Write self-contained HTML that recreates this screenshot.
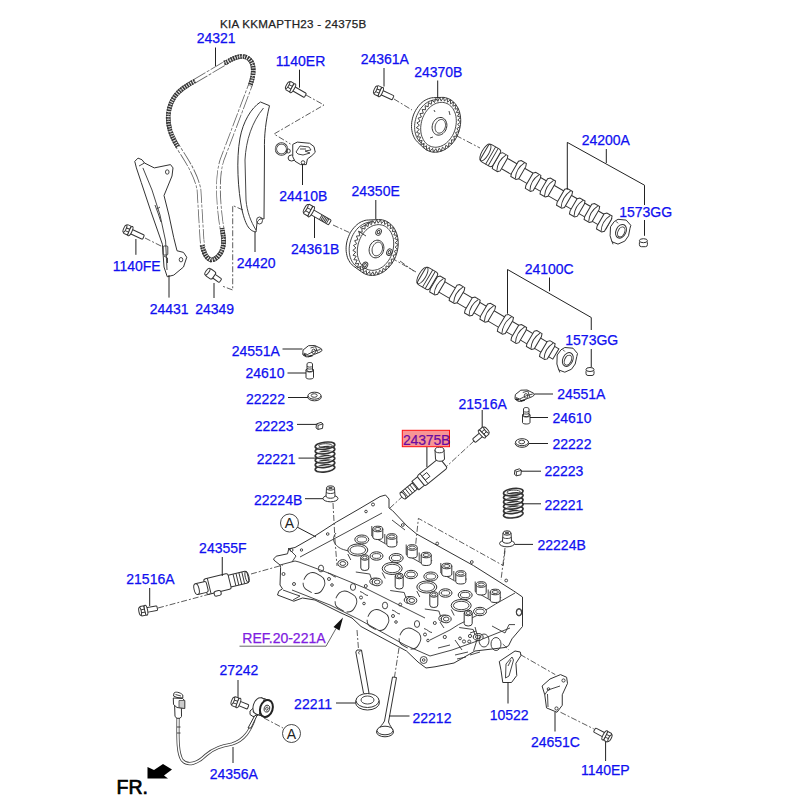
<!DOCTYPE html>
<html><head><meta charset="utf-8">
<style>
html,body{margin:0;padding:0;background:#fff;width:800px;height:800px;overflow:hidden}
svg{position:absolute;left:0;top:0}
.t{font-family:"Liberation Sans",sans-serif;font-size:14px;fill:#1010f0;stroke:#1010f0;stroke-width:0.25}
.ttl{font-family:"Liberation Sans",sans-serif;font-size:11.6px;letter-spacing:0.27px;fill:#222;stroke:#222;stroke-width:0.25}
.ln{stroke:#222;stroke-width:1;fill:none}
.dl{stroke:#333;stroke-width:0.8;fill:none;stroke-dasharray:6 2 2 2}
.p{stroke:#333;stroke-width:1;fill:#fff}
.pn{stroke:#333;stroke-width:0.9;fill:none}
</style></head><body>
<svg width="800" height="800" viewBox="0 0 800 800">
<g id="timing">
<!-- chain -->
<defs><path id="chainp" d="M 211 260 C 205 258 203 250 202 240 L 199 190 C 197 178 190 165 180 150 C 172 138 166 125 169 110 C 172 95 182 88 195 81 L 227 62 C 235 57 243 54 249 59 C 255 64 254 75 250 86 L 222 160 C 217 175 218 200 221 222 C 223 235 226 245 220 254 C 217 258 214 260 211 260 Z"/></defs>
<use href="#chainp" stroke="#666" stroke-width="4.6" fill="none" stroke-dasharray="14 1.5 3 1.5"/>
<use href="#chainp" stroke="#fff" stroke-width="3" fill="none"/>
<path d="M 224 63 L 227 62 C 235 57 243 54 249 59 C 255 64 254 75 250 86" stroke="#333" stroke-width="4.6" fill="none" stroke-dasharray="1.6 0.9"/>
<path d="M 224 63 L 227 62 C 235 57 243 54 249 59 C 255 64 254 75 250 86" stroke="#aaa" stroke-width="1" fill="none" stroke-dasharray="1 2"/>
<path d="M 195 81 C 182 88 172 95 169 110 C 166 125 172 138 178 147" stroke="#333" stroke-width="4.6" fill="none" stroke-dasharray="1.6 0.9"/>
<path d="M 195 81 C 182 88 172 95 169 110 C 166 125 172 138 178 147" stroke="#aaa" stroke-width="1" fill="none" stroke-dasharray="1 2"/>
<path d="M 202 245 C 203 250 205 258 211 260 C 214 260 217 258 220 254 C 226 245 223 235 222 228" stroke="#333" stroke-width="4.6" fill="none" stroke-dasharray="1.6 0.9"/>
<path d="M 202 245 C 203 250 205 258 211 260 C 214 260 217 258 220 254 C 226 245 223 235 222 228" stroke="#aaa" stroke-width="1" fill="none" stroke-dasharray="1 2"/>
<line class="ln" x1="215.5" y1="47.5" x2="215.5" y2="66"/>
<!-- guide 24420 -->
<path class="p" d="M 260.5 102 L 269.5 105.7 C 266 120 264 135 264.5 150 L 264 219 C 262 218 258 219 257 223 L 256 232 C 250 231 246 227 242 210 C 238 190 236 160 240 138 C 243 122 251 108 260.5 102 Z"/>
<path class="pn" d="M 263.5 108 C 252 122 246 140 245 160 L 246 200 C 247 212 251 222 256 230"/>
<ellipse cx="259.5" cy="220.5" rx="3" ry="3.5" class="pn"/>
<line class="ln" x1="255" y1="232" x2="255" y2="252"/>
<path class="dl" d="M 243 210 L 232.7 205.5 L 232.7 290 L 222 286"/>
<!-- arm 24431 -->
<path class="p" d="M 134.75 161.4 L 138 158.1 L 142 159.75 L 144.5 163 L 154.25 167.9 L 170.5 164.6 L 173 167.9 L 172 176 L 164 195.5 L 168.9 215 L 173.75 237.75 L 177 250.75 L 183.5 252.4 L 186.75 257.25 L 183.5 267 L 173.75 275.1 L 167.25 276.75 L 164 267 L 162.4 244.25 L 151 211.75 L 141.25 182.5 L 136.4 167.9 Z"/>
<path class="pn" stroke-width="0.8" d="M 142.9 167.9 L 152 190 L 160 215 L 165.6 241 L 167 270 M 139 166 L 144.5 163"/>
<path class="pn" stroke-width="0.7" d="M 155 205 L 158 213 L 161 222 M 157 209 L 160 207"/>
<ellipse cx="167.25" cy="172" rx="1.8" ry="2.2" class="pn" stroke-width="0.9"/>
<ellipse cx="181" cy="259.7" rx="1.8" ry="2.2" class="pn" stroke-width="0.9"/>
<rect x="163.2" y="246" width="4.6" height="9" rx="1" class="pn" stroke-width="0.9"/>
<path class="pn" stroke-width="0.8" d="M 164 256 L 167.5 258 L 167.5 263"/>
<line class="ln" x1="169" y1="275" x2="169" y2="297.6"/>
<!-- bolt 1140FE -->

<line class="ln" x1="135.9" y1="239" x2="135.9" y2="254.8"/>
<path class="dl" d="M 145 238 L 163 247"/>
<!-- bolt 1140ER -->

<line class="ln" x1="299.5" y1="69.7" x2="299.5" y2="87.7"/>
<path class="dl" d="M 306 95 L 324 105 L 274 134 L 290.5 144"/>
<!-- tensioner 24410B -->
<ellipse cx="281.5" cy="149" rx="5.6" ry="5.6" fill="none" stroke="#333" stroke-width="2.2"/>
<ellipse cx="281.5" cy="149" rx="5.6" ry="5.6" fill="none" stroke="#fff" stroke-width="0.7"/>
<circle cx="288.3" cy="151" r="2" class="pn" stroke-width="0.8"/>
<ellipse cx="291.6" cy="158" rx="3.5" ry="3" class="p" stroke-width="1"/>
<path class="p" d="M 292.75 144.4 L 297.25 142.1 L 309.6 143.25 L 314 146.6 L 315.25 152.25 L 311.9 155.6 L 307.4 159 L 306.25 164.6 L 300.6 164.6 L 295 161.25 L 292.75 156.75 Z"/>
<path class="pn" stroke-width="0.8" d="M 296 152 L 300 146 L 309 147 L 311 150 L 305 151 L 310 153 L 303 155 L 298 154 Z M 300 149 L 306 149"/>
<circle cx="303" cy="162.5" r="1.8" class="pn" stroke-width="0.8"/>
<line class="ln" x1="302.5" y1="164" x2="302.5" y2="185"/>
<!-- bolt 24349 -->

<line class="ln" x1="214" y1="283" x2="214" y2="298"/>
</g>
<g id="cams">
<line class="ln" x1="384" y1="68" x2="384" y2="86.5"/>
<path class="dl" d="M 394 99 L 412 110 M 445.5 130 L 480 148"/>
<path class="p" d="M411.5 126.6 L411.6 124.5 L411.7 122.4 L412.1 120.3 L412.5 118.2 L413.1 116.2 L413.8 114.1 L414.7 112.2 L415.7 110.3 L416.8 108.5 L418.0 106.8 L419.3 105.2 L420.6 103.7 L422.1 102.4 L423.6 101.2 L425.2 100.2 L426.8 99.4 L428.4 98.7 L430.1 98.2 L431.7 97.8 L433.4 97.7 L441.6 97.4 L443.5 97.4 L445.3 97.7 L447.2 98.2 L448.9 98.9 L450.6 99.7 L452.1 100.8 L453.6 102.0 L455.0 103.5 L456.2 105.1 L457.3 106.8 L458.3 108.7 L459.1 110.7 L459.7 112.8 L460.2 115.0 L460.5 117.2 L460.7 119.6 L460.7 121.9 L460.5 124.3 L460.1 126.7 L459.6 129.1 L458.9 131.4 L458.1 133.7 L457.1 136.0 L456.0 138.1 L454.8 140.2 L453.4 142.1 L451.9 143.9 L450.3 145.5 L448.6 147.0 L446.8 148.3 L445.0 149.5 L443.1 150.4 L441.2 151.2 L439.3 151.7 L437.4 152.1 L435.4 152.2 L433.5 152.2 L431.7 151.9 L429.8 151.4 L428.1 150.7 L426.4 149.9 L424.9 148.8 L423.4 147.6 L417.4 141.9 L416.3 140.7 L415.2 139.3 L414.3 137.8 L413.5 136.1 L412.8 134.4 L412.3 132.5 L411.9 130.6 L411.6 128.6Z"/>
<path class="pn" stroke-width="0.7" d="M448.9 128.1 L448.2 130.0 L447.3 131.9 L446.4 133.7 L445.4 135.4 L444.3 137.1 L443.0 138.6 L441.7 140.0 L440.4 141.3 L438.9 142.4 L437.4 143.4 L435.9 144.2 L434.4 144.8 L432.8 145.3 L431.3 145.6 L429.7 145.8 L428.2 145.8 L426.7 145.5 L425.2 145.2 L423.8 144.6 L422.5 143.9 L421.2 143.0 L420.1 142.0 L419.0 140.8 L418.0 139.5 L417.2 138.1 L416.4 136.5 L415.8 134.9 L415.3 133.1 L414.9 131.3 L414.7 129.4 L414.6 127.4 L414.6 125.5 L414.8 123.5 L415.1 121.4 L415.6 119.5 L416.1 117.5 L416.8 115.6 L417.7 113.7 L418.6 111.9 L419.6 110.2 L420.7 108.5 L422.0 107.0 L423.3 105.6 L424.6 104.3 L426.1 103.2 L427.6 102.2 L429.1 101.4 L430.6 100.8 L432.2 100.3 L433.7 100.0 L435.3 99.8 L436.8 99.8 L438.3 100.1 L439.8 100.4 L441.2 101.0 L442.5 101.7 L443.8 102.6 L444.9 103.6 L446.0 104.8 L447.0 106.1 L447.8 107.5 L448.6 109.1 L449.2 110.7 L449.7 112.5 L450.1 114.3 L450.3 116.2 L450.4 118.2 L450.4 120.1 L450.2 122.1 L449.9 124.2 L449.4 126.1Z"/>
<path d="M458.9 131.4 L455.6 132.6 L457.1 136.0 L453.7 136.4 L454.8 140.2 L451.4 139.8 L451.9 143.9 L448.8 142.8 L448.6 147.0 L445.8 145.3 L445.0 149.5 L442.5 147.1 L441.2 151.2 L439.2 148.2 L437.4 152.1 L435.8 148.7 L433.5 152.2 L432.6 148.4 L429.8 151.4 L429.5 147.4 L426.4 149.9 L426.6 145.7 L423.4 147.6 L424.2 143.4 L420.8 144.5 L422.1 140.5 L418.7 140.9 L420.6 137.1 L417.3 136.8 L419.6 133.4 L416.5 132.4 L419.2 129.4 L416.3 127.7 L419.4 125.2 L416.9 122.9 L420.1 121.1 L418.1 118.2 L421.4 117.0 L419.9 113.6 L423.3 113.2 L422.2 109.4 L425.6 109.8 L425.1 105.7 L428.2 106.8 L428.4 102.6 L431.2 104.3 L432.0 100.1 L434.5 102.5 L435.8 98.4 L437.8 101.4 L439.6 97.5 L441.2 100.9 L443.5 97.4 L444.4 101.2 L447.2 98.2 L447.5 102.2 L450.6 99.7 L450.4 103.9 L453.6 102.0 L452.8 106.2 L456.2 105.1 L454.9 109.1 L458.3 108.7 L456.4 112.5 L459.7 112.8 L457.4 116.2 L460.5 117.2 L457.8 120.2 L460.7 121.9 L457.6 124.4 L460.1 126.7 L456.9 128.5Z" fill="#fff" stroke="#333" stroke-width="0.9"/>
<path class="pn" stroke-width="0.8" d="M454.9 130.1 L454.2 132.0 L453.4 133.8 L452.5 135.6 L451.4 137.3 L450.3 138.8 L449.1 140.3 L447.8 141.7 L446.5 142.9 L445.1 144.0 L443.6 144.9 L442.1 145.7 L440.5 146.4 L439.0 146.8 L437.4 147.1 L435.9 147.3 L434.4 147.2 L432.9 147.0 L431.4 146.6 L430.0 146.1 L428.7 145.4 L427.4 144.5 L426.2 143.5 L425.2 142.3 L424.2 141.1 L423.3 139.6 L422.6 138.1 L421.9 136.5 L421.4 134.8 L421.0 133.0 L420.8 131.1 L420.7 129.2 L420.7 127.3 L420.9 125.3 L421.2 123.4 L421.6 121.4 L422.1 119.5 L422.8 117.6 L423.6 115.8 L424.5 114.0 L425.6 112.3 L426.7 110.8 L427.9 109.3 L429.2 107.9 L430.5 106.7 L431.9 105.6 L433.4 104.7 L434.9 103.9 L436.5 103.2 L438.0 102.8 L439.6 102.5 L441.1 102.3 L442.6 102.4 L444.1 102.6 L445.6 103.0 L447.0 103.5 L448.3 104.2 L449.6 105.1 L450.8 106.1 L451.8 107.3 L452.8 108.5 L453.7 110.0 L454.4 111.5 L455.1 113.1 L455.6 114.8 L456.0 116.6 L456.2 118.5 L456.3 120.4 L456.3 122.3 L456.1 124.3 L455.8 126.2 L455.4 128.2Z"/>
<path class="p" d="M446.3 128.5 L445.8 130.0 L445.0 131.3 L444.0 132.5 L443.0 133.5 L441.8 134.3 L440.5 134.8 L439.2 135.1 L438.0 135.1 L436.7 134.9 L435.6 134.3 L434.5 133.6 L433.7 132.6 L433.0 131.4 L432.5 130.1 L432.2 128.7 L432.1 127.1 L432.3 125.6 L432.7 124.1 L433.2 122.6 L434.0 121.3 L435.0 120.1 L436.0 119.1 L437.2 118.3 L438.5 117.8 L439.8 117.5 L441.0 117.5 L442.3 117.7 L443.4 118.3 L444.5 119.0 L445.3 120.0 L446.0 121.2 L446.5 122.5 L446.8 123.9 L446.9 125.5 L446.7 127.0Z"/>
<path class="pn" stroke-width="0.8" d="M445.1 127.8 L444.6 129.0 L444.0 130.0 L443.3 131.0 L442.6 131.8 L441.7 132.4 L440.8 132.8 L439.9 133.1 L439.0 133.1 L438.1 133.0 L437.3 132.6 L436.6 132.0 L436.0 131.3 L435.6 130.4 L435.3 129.4 L435.1 128.3 L435.1 127.1 L435.2 125.9 L435.5 124.8 L436.0 123.6 L436.6 122.6 L437.3 121.6 L438.0 120.8 L438.9 120.2 L439.8 119.8 L440.7 119.5 L441.6 119.5 L442.5 119.6 L443.3 120.0 L444.0 120.6 L444.6 121.3 L445.0 122.2 L445.3 123.2 L445.5 124.3 L445.5 125.5 L445.4 126.7Z"/>
<path class="pn" stroke-width="0.8" d="M 434 110 L 435 112 M 449 111 L 450 115 M 430 138 L 433 137"/>
<line class="ln" x1="437.7" y1="80.5" x2="437.7" y2="98.5"/>
<g transform="translate(488.0,154.0) rotate(30.09)">
<rect x="0" y="-6.0" width="139.6" height="12" class="p"/>
<path class="p" d="M130.5 -6.5 L132.5 -8.5 L138.5 -8.5 L139.5 -5.5 L139.5 8.5 L137.5 10.5 L131.5 10.5 L130.5 7.5 Z"/>
<path class="pn" stroke-width="0.7" d="M136.5 -8.0 C133.5 -2.0 133.5 4.0 136.5 10.0"/>
<path class="p" d="M115.0 -8.5 L117.0 -10.5 L123.0 -10.5 L124.0 -7.5 L124.0 6.5 L122.0 8.5 L116.0 8.5 L115.0 5.5 Z"/>
<path class="pn" stroke-width="0.7" d="M121.0 -10.0 C118.0 -4.0 118.0 2.0 121.0 8.0"/>
<path class="p" d="M99.5 -6.0 L101.5 -8.0 L107.5 -8.0 L108.5 -5.0 L108.5 9.0 L106.5 11.0 L100.5 11.0 L99.5 8.0 Z"/>
<path class="pn" stroke-width="0.7" d="M105.5 -7.5 C102.5 -1.5 102.5 4.5 105.5 10.5"/>
<path class="p" d="M84.0 -8.0 L86.0 -10.0 L92.0 -10.0 L93.0 -7.0 L93.0 8.0 L91.0 10.0 L85.0 10.0 L84.0 7.0 Z"/>
<path class="pn" stroke-width="0.7" d="M90.0 -9.5 C87.0 -3.0 87.0 3.0 90.0 9.5"/>
<path class="p" d="M64.0 -8.5 L66.0 -10.5 L72.0 -10.5 L73.0 -7.5 L73.0 6.5 L71.0 8.5 L65.0 8.5 L64.0 5.5 Z"/>
<path class="pn" stroke-width="0.7" d="M70.0 -10.0 C67.0 -4.0 67.0 2.0 70.0 8.0"/>
<path class="p" d="M48.5 -6.0 L50.5 -8.0 L56.5 -8.0 L57.5 -5.0 L57.5 9.0 L55.5 11.0 L49.5 11.0 L48.5 8.0 Z"/>
<path class="pn" stroke-width="0.7" d="M54.5 -7.5 C51.5 -1.5 51.5 4.5 54.5 10.5"/>
<path class="p" d="M30.0 -9.0 L32.0 -11.0 L38.0 -11.0 L39.0 -8.0 L39.0 6.0 L37.0 8.0 L31.0 8.0 L30.0 5.0 Z"/>
<path class="pn" stroke-width="0.7" d="M36.0 -10.5 C33.0 -4.5 33.0 1.5 36.0 7.5"/>
<path class="p" d="M10.0 -6.5 L12.0 -8.5 L18.0 -8.5 L19.0 -5.5 L19.0 8.5 L17.0 10.5 L11.0 10.5 L10.0 7.5 Z"/>
<path class="pn" stroke-width="0.7" d="M16.0 -8.0 C13.0 -2.0 13.0 4.0 16.0 10.0"/>
<rect x="-4" y="-10.0" width="14" height="20" rx="3" class="p"/>
<ellipse cx="-3" cy="0" rx="3.5" ry="9.5" class="pn" stroke-width="0.8"/>
<path class="pn" stroke-width="0.7" d="M3 -10.0V10.0M6 -10.0V10.0"/>
</g>
<path class="p" stroke-width="1" d="M618.0 219.3 L626.2 220.1 L630.8 225.3 L630.0 228.3 L628.5 235.8 L624.8 241.1 L618.0 244.1 L612.0 241.8 L610.1 235.8 L610.5 226.8 L614.2 221.6Z"/><ellipse cx="621.0" cy="231.3" rx="5" ry="7.2" transform="rotate(25 621.0 231.3)" class="p" stroke-width="1"/><ellipse cx="621.5" cy="231.8" rx="3.3" ry="5.3" transform="rotate(25 621.0 231.3)" class="pn" stroke-width="0.8"/><path class="pn" stroke-width="0.7" d="M612.0 241.3 L613.0 244.3 M616.0 221.3 L618.0 223.3"/>
<path class="ln" d="M 567.3 189.7 V 142.4 L 644.5 185.2 V 205 M 644.5 220 V 235.8 M 606.3 149 V 163"/>
<g transform="translate(643.4,243.7)"><rect x="-4" y="-3" width="8" height="6" rx="2" class="p"/><ellipse cx="0" cy="-3" rx="4" ry="2" class="p"/></g>
<line class="ln" x1="314.5" y1="217" x2="314.5" y2="238"/>
<path class="dl" d="M 333 225 L 349.5 232.6 M 391.5 258 L 416 272"/>
<path class="p" d="M346.1 249.3 L346.1 247.2 L346.3 245.1 L346.6 243.0 L347.1 240.8 L347.7 238.7 L348.5 236.7 L349.3 234.7 L350.3 232.7 L351.4 230.9 L352.7 229.2 L354.0 227.6 L355.4 226.1 L356.9 224.7 L358.4 223.5 L360.0 222.5 L361.6 221.6 L363.3 221.0 L365.0 220.4 L366.7 220.1 L368.4 220.0 L378.6 219.6 L380.5 219.6 L382.4 219.9 L384.3 220.4 L386.1 221.1 L387.8 222.0 L389.4 223.1 L390.9 224.4 L392.3 225.8 L393.6 227.4 L394.7 229.2 L395.7 231.1 L396.5 233.1 L397.2 235.3 L397.7 237.5 L398.0 239.8 L398.2 242.2 L398.2 244.6 L398.0 247.1 L397.6 249.5 L397.1 251.9 L396.4 254.3 L395.6 256.6 L394.6 258.9 L393.4 261.1 L392.1 263.2 L390.7 265.1 L389.2 266.9 L387.6 268.6 L385.9 270.1 L384.1 271.5 L382.2 272.6 L380.3 273.6 L378.3 274.4 L376.4 274.9 L374.4 275.3 L372.4 275.4 L370.5 275.4 L368.6 275.1 L366.7 274.6 L364.9 273.9 L363.2 273.0 L361.6 271.9 L353.4 266.0 L352.1 264.9 L351.0 263.7 L349.9 262.3 L349.0 260.7 L348.1 259.1 L347.4 257.3 L346.9 255.4 L346.5 253.4 L346.2 251.4Z"/>
<path class="pn" stroke-width="0.7" d="M384.2 250.9 L383.5 252.9 L382.7 254.8 L381.8 256.6 L380.7 258.4 L379.5 260.1 L378.3 261.6 L377.0 263.0 L375.6 264.3 L374.1 265.4 L372.6 266.4 L371.0 267.3 L369.5 267.9 L367.9 268.4 L366.3 268.8 L364.7 268.9 L363.1 268.9 L361.6 268.7 L360.1 268.3 L358.7 267.7 L357.3 267.0 L356.0 266.1 L354.8 265.0 L353.7 263.8 L352.7 262.5 L351.8 261.0 L351.1 259.4 L350.4 257.8 L349.9 256.0 L349.5 254.1 L349.3 252.2 L349.2 250.2 L349.2 248.2 L349.4 246.1 L349.7 244.1 L350.2 242.1 L350.8 240.1 L351.5 238.1 L352.3 236.2 L353.2 234.4 L354.3 232.6 L355.5 230.9 L356.7 229.4 L358.0 228.0 L359.4 226.7 L360.9 225.6 L362.4 224.6 L364.0 223.7 L365.5 223.1 L367.1 222.6 L368.7 222.2 L370.3 222.1 L371.9 222.1 L373.4 222.3 L374.9 222.7 L376.3 223.3 L377.7 224.0 L379.0 224.9 L380.2 226.0 L381.3 227.2 L382.3 228.5 L383.2 230.0 L383.9 231.6 L384.6 233.2 L385.1 235.0 L385.5 236.9 L385.7 238.8 L385.8 240.8 L385.8 242.8 L385.6 244.9 L385.3 246.9 L384.8 248.9Z"/>
<path d="M396.4 254.3 L393.0 255.4 L394.6 258.9 L391.1 259.3 L392.1 263.2 L388.8 262.8 L389.2 266.9 L386.0 265.9 L385.9 270.1 L383.0 268.4 L382.2 272.6 L379.7 270.2 L378.3 274.4 L376.2 271.4 L374.4 275.3 L372.8 271.8 L370.5 275.4 L369.5 271.5 L366.7 274.6 L366.3 270.5 L363.2 273.0 L363.4 268.7 L360.1 270.6 L360.9 266.4 L357.4 267.6 L358.8 263.4 L355.3 263.9 L357.2 260.0 L353.8 259.7 L356.2 256.2 L353.0 255.2 L355.8 252.1 L352.8 250.4 L355.9 247.9 L353.4 245.5 L356.7 243.7 L354.6 240.7 L358.0 239.6 L356.4 236.1 L359.9 235.7 L358.9 231.8 L362.2 232.2 L361.8 228.1 L365.0 229.1 L365.1 224.9 L368.0 226.6 L368.8 222.4 L371.3 224.8 L372.7 220.6 L374.8 223.6 L376.6 219.7 L378.2 223.2 L380.5 219.6 L381.5 223.5 L384.3 220.4 L384.7 224.5 L387.8 222.0 L387.6 226.3 L390.9 224.4 L390.1 228.6 L393.6 227.4 L392.2 231.6 L395.7 231.1 L393.8 235.0 L397.2 235.3 L394.8 238.8 L398.0 239.8 L395.2 242.9 L398.2 244.6 L395.1 247.1 L397.6 249.5 L394.3 251.3Z" fill="#fff" stroke="#333" stroke-width="0.9"/>
<path class="pn" stroke-width="0.8" d="M392.2 252.9 L391.5 254.9 L390.7 256.7 L389.8 258.5 L388.8 260.2 L387.6 261.8 L386.4 263.3 L385.1 264.7 L383.7 266.0 L382.2 267.1 L380.7 268.0 L379.2 268.8 L377.6 269.5 L376.0 269.9 L374.4 270.2 L372.9 270.4 L371.3 270.3 L369.8 270.1 L368.3 269.7 L366.8 269.2 L365.5 268.4 L364.2 267.6 L363.0 266.5 L361.9 265.3 L360.9 264.0 L360.0 262.6 L359.2 261.0 L358.6 259.4 L358.0 257.6 L357.6 255.8 L357.4 253.9 L357.3 252.0 L357.3 250.0 L357.5 248.0 L357.8 246.0 L358.2 244.0 L358.8 242.1 L359.5 240.1 L360.3 238.3 L361.2 236.5 L362.2 234.8 L363.4 233.2 L364.6 231.7 L365.9 230.3 L367.3 229.0 L368.8 227.9 L370.3 227.0 L371.8 226.2 L373.4 225.5 L375.0 225.1 L376.6 224.8 L378.1 224.6 L379.7 224.7 L381.2 224.9 L382.7 225.3 L384.2 225.8 L385.5 226.6 L386.8 227.4 L388.0 228.5 L389.1 229.7 L390.1 231.0 L391.0 232.4 L391.8 234.0 L392.4 235.6 L393.0 237.4 L393.4 239.2 L393.6 241.1 L393.7 243.0 L393.7 245.0 L393.5 247.0 L393.2 249.0 L392.8 251.0Z"/>
<path class="p" d="M383.3 251.2 L382.8 252.7 L382.0 254.0 L381.0 255.2 L380.0 256.2 L378.8 257.0 L377.5 257.5 L376.2 257.8 L375.0 257.8 L373.7 257.6 L372.6 257.0 L371.5 256.3 L370.7 255.3 L370.0 254.1 L369.5 252.8 L369.2 251.4 L369.1 249.8 L369.3 248.3 L369.7 246.8 L370.2 245.3 L371.0 244.0 L372.0 242.8 L373.0 241.8 L374.2 241.0 L375.5 240.5 L376.8 240.2 L378.0 240.2 L379.3 240.4 L380.4 241.0 L381.5 241.7 L382.3 242.7 L383.0 243.9 L383.5 245.2 L383.8 246.6 L383.9 248.2 L383.7 249.7Z"/>
<path class="pn" stroke-width="0.8" d="M382.1 250.5 L381.6 251.7 L381.0 252.7 L380.3 253.7 L379.6 254.5 L378.7 255.1 L377.8 255.5 L376.9 255.8 L376.0 255.8 L375.1 255.7 L374.3 255.3 L373.6 254.7 L373.0 254.0 L372.6 253.1 L372.3 252.1 L372.1 251.0 L372.1 249.8 L372.2 248.6 L372.5 247.5 L373.0 246.3 L373.6 245.3 L374.3 244.3 L375.0 243.5 L375.9 242.9 L376.8 242.5 L377.7 242.2 L378.6 242.2 L379.5 242.3 L380.3 242.7 L381.0 243.3 L381.6 244.0 L382.0 244.9 L382.3 245.9 L382.5 247.0 L382.5 248.2 L382.4 249.4Z"/>
<ellipse cx="378.6" cy="232" rx="2.6" ry="3.4" transform="rotate(25 378.6 232)" class="pn" stroke-width="1"/><ellipse cx="378.6" cy="232" rx="1.2" ry="1.8" transform="rotate(25 378.6 232)" class="pn" stroke-width="0.6"/>
<ellipse cx="389.4" cy="252.2" rx="2.6" ry="3.4" transform="rotate(25 389.4 252.2)" class="pn" stroke-width="1"/><ellipse cx="389.4" cy="252.2" rx="1.2" ry="1.8" transform="rotate(25 389.4 252.2)" class="pn" stroke-width="0.6"/>
<ellipse cx="365" cy="265.3" rx="2.6" ry="3.4" transform="rotate(25 365 265.3)" class="pn" stroke-width="1"/><ellipse cx="365" cy="265.3" rx="1.2" ry="1.8" transform="rotate(25 365 265.3)" class="pn" stroke-width="0.6"/>
<path class="pn" stroke-width="0.8" d="M 360 228 L 372 221 M 358 231 L 366 236"/>
<line class="ln" x1="375.8" y1="200" x2="375.8" y2="219"/>
<g transform="translate(425.0,277.0) rotate(30.47)">
<rect x="0" y="-6.0" width="151.8" height="12" class="p"/>
<path class="p" d="M138.0 -6.5 L140.0 -8.5 L146.0 -8.5 L147.0 -5.5 L147.0 8.5 L145.0 10.5 L139.0 10.5 L138.0 7.5 Z"/>
<path class="pn" stroke-width="0.7" d="M144.0 -8.0 C141.0 -2.0 141.0 4.0 144.0 10.0"/>
<path class="p" d="M121.6 -8.5 L123.6 -10.5 L129.6 -10.5 L130.6 -7.5 L130.6 6.5 L128.6 8.5 L122.6 8.5 L121.6 5.5 Z"/>
<path class="pn" stroke-width="0.7" d="M127.6 -10.0 C124.6 -4.0 124.6 2.0 127.6 8.0"/>
<path class="p" d="M105.2 -6.0 L107.2 -8.0 L113.2 -8.0 L114.2 -5.0 L114.2 9.0 L112.2 11.0 L106.2 11.0 L105.2 8.0 Z"/>
<path class="pn" stroke-width="0.7" d="M111.2 -7.5 C108.2 -1.5 108.2 4.5 111.2 10.5"/>
<path class="p" d="M88.8 -8.0 L90.8 -10.0 L96.8 -10.0 L97.8 -7.0 L97.8 8.0 L95.8 10.0 L89.8 10.0 L88.8 7.0 Z"/>
<path class="pn" stroke-width="0.7" d="M94.8 -9.5 C91.8 -3.0 91.8 3.0 94.8 9.5"/>
<path class="p" d="M67.7 -8.5 L69.7 -10.5 L75.7 -10.5 L76.7 -7.5 L76.7 6.5 L74.7 8.5 L68.7 8.5 L67.7 5.5 Z"/>
<path class="pn" stroke-width="0.7" d="M73.7 -10.0 C70.7 -4.0 70.7 2.0 73.7 8.0"/>
<path class="p" d="M51.3 -6.0 L53.3 -8.0 L59.3 -8.0 L60.3 -5.0 L60.3 9.0 L58.3 11.0 L52.3 11.0 L51.3 8.0 Z"/>
<path class="pn" stroke-width="0.7" d="M57.3 -7.5 C54.3 -1.5 54.3 4.5 57.3 10.5"/>
<path class="p" d="M31.7 -9.0 L33.7 -11.0 L39.7 -11.0 L40.7 -8.0 L40.7 6.0 L38.7 8.0 L32.7 8.0 L31.7 5.0 Z"/>
<path class="pn" stroke-width="0.7" d="M37.7 -10.5 C34.7 -4.5 34.7 1.5 37.7 7.5"/>
<path class="p" d="M10.6 -6.5 L12.6 -8.5 L18.6 -8.5 L19.6 -5.5 L19.6 8.5 L17.6 10.5 L11.6 10.5 L10.6 7.5 Z"/>
<path class="pn" stroke-width="0.7" d="M16.6 -8.0 C13.6 -2.0 13.6 4.0 16.6 10.0"/>
<rect x="-4" y="-10.0" width="14" height="20" rx="3" class="p"/>
<ellipse cx="-3" cy="0" rx="3.5" ry="9.5" class="pn" stroke-width="0.8"/>
<path class="pn" stroke-width="0.7" d="M3 -10.0V10.0M6 -10.0V10.0"/>
</g>
<path class="p" stroke-width="1" d="M564.8 347.5 L573.0 348.2 L577.5 353.5 L576.8 356.5 L575.2 364.0 L571.5 369.2 L564.8 372.2 L558.8 370.0 L556.9 364.0 L557.2 355.0 L561.0 349.8Z"/><ellipse cx="567.8" cy="359.5" rx="5" ry="7.2" transform="rotate(25 567.8 359.5)" class="p" stroke-width="1"/><ellipse cx="568.2" cy="360.0" rx="3.3" ry="5.3" transform="rotate(25 567.8 359.5)" class="pn" stroke-width="0.8"/><path class="pn" stroke-width="0.7" d="M558.8 369.5 L559.8 372.5 M562.8 349.5 L564.8 351.5"/>
<path class="ln" d="M 507.5 313.75 V 269.5 L 591.25 317.5 V 330 M 591.25 349 V 367 M 549.5 277.5 V 291.25"/>
<g transform="translate(590,372.5)"><rect x="-4" y="-3" width="8" height="6" rx="2" class="p"/><ellipse cx="0" cy="-3" rx="4" ry="2" class="p"/></g>
<path class="dl" d="M 400 261 L 413.75 271"/>
</g>
<g id="smalls">
<g transform="translate(302.5,345)">
<path class="p" stroke-width="1.1" d="M0.3 7.5 L0.6 5 L6 0.7 L12.3 0.5 L18.8 3.7 L19.6 5.5 L17.5 7.1 L12.3 9.2 L6 11.8 L3.4 11.8 L0.3 9.7 Z"/>
<path class="pn" stroke-width="0.8" d="M1 8 L5 9.5 L12 6 L18 4.5 M5 9.5 L6 11.8 M8 3 L13 1.5 L15 7.5"/>
<ellipse cx="11.2" cy="6.4" rx="1.8" ry="2.3" class="pn" stroke-width="1"/>
<path stroke="#222" stroke-width="1.6" fill="none" d="M1 9.5 L4 10.5 M6 11.6 L10 10.5"/>
</g>
<line class="ln" x1="282.5" y1="349" x2="302.5" y2="349"/>
<g transform="translate(306,362.5)">
<path class="p" d="M0 7 L0 15 C0 17 7.5 17 7.5 15 L7.5 7 Z"/>
<path class="p" d="M1 1.5 L1 8 C1 9.5 6.5 9.5 6.5 8 L6.5 1.5 C6.5 -0.5 1 -0.5 1 1.5Z"/>
<path class="pn" stroke-width="0.7" d="M0 8 C0 10 7.5 10 7.5 8 M1 3.5 C1 5 6.5 5 6.5 3.5 M1 5.5 C1 7 6.5 7 6.5 5.5"/>
</g>
<line class="ln" x1="287.5" y1="373" x2="306" y2="373"/>
<g transform="translate(314.5,396)">
<ellipse cx="0" cy="1" rx="6.8" ry="3.8" class="p"/>
<ellipse cx="0" cy="-0.3" rx="6.5" ry="3.5" class="p"/>
<ellipse cx="-0.3" cy="-0.5" rx="3" ry="1.8" class="pn" stroke-width="0.9"/>
</g>
<line class="ln" x1="288" y1="397.5" x2="308" y2="397.5"/>
<g transform="translate(316,422.4)">
<path class="p" d="M0.5 1.5 L5 0 L7 1.5 L6.5 6 L2 7 L0 5.5 Z"/>
<path class="pn" stroke-width="0.6" d="M0.5 1.5 L2 3 L7 1.5 M2 3 L2 7"/>
</g>
<line class="ln" x1="297" y1="424.4" x2="316" y2="424.4"/>
<g transform="translate(325,442.3)">
<rect x="-9.75" y="3.4" width="19.5" height="22.7" fill="#fff"/>
<ellipse cx="0" cy="26.1" rx="9.75" ry="3.4" transform="rotate(-7 0 26.1)" fill="none" stroke="#333" stroke-width="1.9"/>
<ellipse cx="0" cy="26.1" rx="8.55" ry="2.3" transform="rotate(-7 0 26.1)" fill="none" stroke="#fff" stroke-width="0.7"/>
<ellipse cx="0" cy="21.6" rx="9.75" ry="3.4" transform="rotate(-7 0 21.6)" fill="none" stroke="#333" stroke-width="1.9"/>
<ellipse cx="0" cy="21.6" rx="8.55" ry="2.3" transform="rotate(-7 0 21.6)" fill="none" stroke="#fff" stroke-width="0.7"/>
<ellipse cx="0" cy="17.0" rx="9.75" ry="3.4" transform="rotate(-7 0 17.0)" fill="none" stroke="#333" stroke-width="1.9"/>
<ellipse cx="0" cy="17.0" rx="8.55" ry="2.3" transform="rotate(-7 0 17.0)" fill="none" stroke="#fff" stroke-width="0.7"/>
<ellipse cx="0" cy="12.5" rx="9.75" ry="3.4" transform="rotate(-7 0 12.5)" fill="none" stroke="#333" stroke-width="1.9"/>
<ellipse cx="0" cy="12.5" rx="8.55" ry="2.3" transform="rotate(-7 0 12.5)" fill="none" stroke="#fff" stroke-width="0.7"/>
<ellipse cx="0" cy="7.9" rx="9.75" ry="3.4" transform="rotate(-7 0 7.9)" fill="none" stroke="#333" stroke-width="1.9"/>
<ellipse cx="0" cy="7.9" rx="8.55" ry="2.3" transform="rotate(-7 0 7.9)" fill="none" stroke="#fff" stroke-width="0.7"/>
<ellipse cx="0" cy="3.4" rx="9.75" ry="3.4" transform="rotate(-7 0 3.4)" fill="none" stroke="#333" stroke-width="1.9"/>
<ellipse cx="0" cy="3.4" rx="8.55" ry="2.3" transform="rotate(-7 0 3.4)" fill="none" stroke="#fff" stroke-width="0.7"/>
<ellipse cx="0.5" cy="3.4" rx="6.75" ry="2.0" class="pn" stroke-width="0.9"/>
</g>
<line class="ln" x1="298.5" y1="458.1" x2="316" y2="458.1"/>
<g transform="translate(330.5,486)">
<ellipse cx="0" cy="12.5" rx="7.5" ry="3.3" class="p"/>
<path class="p" d="M-4 2 L-4.5 10 C-4.5 13 4.5 13 4.5 10 L4 2 Z"/>
<ellipse cx="0" cy="2" rx="4" ry="2.2" class="p"/>
<ellipse cx="0" cy="2" rx="2.2" ry="1.2" fill="#555" stroke="none"/>
<path class="pn" stroke-width="0.6" d="M-4.2 6 C-4.2 8 4.2 8 4.2 6"/>
</g>
<line class="ln" x1="305" y1="498.7" x2="323" y2="498.7"/>
<g transform="translate(514.8,389.5)">
<path class="p" stroke-width="1.1" d="M0.3 7.5 L0.6 5 L6 0.7 L12.3 0.5 L18.8 3.7 L19.6 5.5 L17.5 7.1 L12.3 9.2 L6 11.8 L3.4 11.8 L0.3 9.7 Z"/>
<path class="pn" stroke-width="0.8" d="M1 8 L5 9.5 L12 6 L18 4.5 M5 9.5 L6 11.8 M8 3 L13 1.5 L15 7.5"/>
<ellipse cx="11.2" cy="6.4" rx="1.8" ry="2.3" class="pn" stroke-width="1"/>
<path stroke="#222" stroke-width="1.6" fill="none" d="M1 9.5 L4 10.5 M6 11.6 L10 10.5"/>
</g>
<line class="ln" x1="534.5" y1="394" x2="553" y2="394"/>
<g transform="translate(522.5,407.5)">
<path class="p" d="M0 7 L0 15 C0 17 7.5 17 7.5 15 L7.5 7 Z"/>
<path class="p" d="M1 1.5 L1 8 C1 9.5 6.5 9.5 6.5 8 L6.5 1.5 C6.5 -0.5 1 -0.5 1 1.5Z"/>
<path class="pn" stroke-width="0.7" d="M0 8 C0 10 7.5 10 7.5 8 M1 3.5 C1 5 6.5 5 6.5 3.5 M1 5.5 C1 7 6.5 7 6.5 5.5"/>
</g>
<line class="ln" x1="530" y1="417.5" x2="548" y2="417.5"/>
<g transform="translate(522,442.5)">
<ellipse cx="0" cy="1" rx="6.8" ry="3.8" class="p"/>
<ellipse cx="0" cy="-0.3" rx="6.5" ry="3.5" class="p"/>
<ellipse cx="-0.3" cy="-0.5" rx="3" ry="1.8" class="pn" stroke-width="0.9"/>
</g>
<line class="ln" x1="529" y1="443.5" x2="548" y2="443.5"/>
<g transform="translate(514.4,468.8)">
<path class="p" d="M0.5 1.5 L5 0 L7 1.5 L6.5 6 L2 7 L0 5.5 Z"/>
<path class="pn" stroke-width="0.6" d="M0.5 1.5 L2 3 L7 1.5 M2 3 L2 7"/>
</g>
<line class="ln" x1="521.3" y1="471.2" x2="541" y2="471.2"/>
<g transform="translate(513.3,488.7)">
<rect x="-9.75" y="3.4" width="19.5" height="22.2" fill="#fff"/>
<ellipse cx="0" cy="25.6" rx="9.75" ry="3.4" transform="rotate(-7 0 25.6)" fill="none" stroke="#333" stroke-width="1.9"/>
<ellipse cx="0" cy="25.6" rx="8.55" ry="2.3" transform="rotate(-7 0 25.6)" fill="none" stroke="#fff" stroke-width="0.7"/>
<ellipse cx="0" cy="21.2" rx="9.75" ry="3.4" transform="rotate(-7 0 21.2)" fill="none" stroke="#333" stroke-width="1.9"/>
<ellipse cx="0" cy="21.2" rx="8.55" ry="2.3" transform="rotate(-7 0 21.2)" fill="none" stroke="#fff" stroke-width="0.7"/>
<ellipse cx="0" cy="16.7" rx="9.75" ry="3.4" transform="rotate(-7 0 16.7)" fill="none" stroke="#333" stroke-width="1.9"/>
<ellipse cx="0" cy="16.7" rx="8.55" ry="2.3" transform="rotate(-7 0 16.7)" fill="none" stroke="#fff" stroke-width="0.7"/>
<ellipse cx="0" cy="12.3" rx="9.75" ry="3.4" transform="rotate(-7 0 12.3)" fill="none" stroke="#333" stroke-width="1.9"/>
<ellipse cx="0" cy="12.3" rx="8.55" ry="2.3" transform="rotate(-7 0 12.3)" fill="none" stroke="#fff" stroke-width="0.7"/>
<ellipse cx="0" cy="7.8" rx="9.75" ry="3.4" transform="rotate(-7 0 7.8)" fill="none" stroke="#333" stroke-width="1.9"/>
<ellipse cx="0" cy="7.8" rx="8.55" ry="2.3" transform="rotate(-7 0 7.8)" fill="none" stroke="#fff" stroke-width="0.7"/>
<ellipse cx="0" cy="3.4" rx="9.75" ry="3.4" transform="rotate(-7 0 3.4)" fill="none" stroke="#333" stroke-width="1.9"/>
<ellipse cx="0" cy="3.4" rx="8.55" ry="2.3" transform="rotate(-7 0 3.4)" fill="none" stroke="#fff" stroke-width="0.7"/>
<ellipse cx="0.5" cy="3.4" rx="6.75" ry="2.0" class="pn" stroke-width="0.9"/>
</g>
<line class="ln" x1="522" y1="503.8" x2="541" y2="503.8"/>
<g transform="translate(507,531)">
<ellipse cx="0" cy="12.5" rx="7.5" ry="3.3" class="p"/>
<path class="p" d="M-4 2 L-4.5 10 C-4.5 13 4.5 13 4.5 10 L4 2 Z"/>
<ellipse cx="0" cy="2" rx="4" ry="2.2" class="p"/>
<ellipse cx="0" cy="2" rx="2.2" ry="1.2" fill="#555" stroke="none"/>
<path class="pn" stroke-width="0.6" d="M-4.2 6 C-4.2 8 4.2 8 4.2 6"/>
</g>
<line class="ln" x1="514.5" y1="544.4" x2="533" y2="544.4"/>
</g>
<g id="head">
<path class="p" stroke-width="0.9" d="M273.8 558.8 L276.2 556.2 L287.5 553.8 L288.8 548.8 L295.0 547.5 L312.5 537.5 L336.5 522.0 L359.0 509.0 L380.0 496.6 L385.5 495.0 L389.0 499.0 L389.0 508.0 L392.5 510.6 L407.0 526.0 L416.6 534.0 L473.5 565.6 L513.8 591.0 L522.5 597.0 L522.5 626.5 L512.0 638.8 L508.5 645.8 L505.0 647.5 L475.0 651.0 L454.0 663.0 L435.0 666.8 L426.0 668.0 L418.0 662.0 L406.5 651.0 L361.0 626.5 L352.0 618.0 L340.0 612.5 L325.0 605.0 L315.0 600.0 L302.5 598.0 L293.8 601.2 L277.5 595.0 L278.8 591.2 L282.5 588.8 L280.0 585.0 L280.6 567.5 L280.0 565.0 L273.8 560.0 Z"/>
<path class="pn" stroke-width="0.8" d="M 280 565 L 295 561 L 299 562 L 331 574 L 365 588 L 395 603 L 425 618 M 336 533 C 330 540 336 548 345 550 L 352 552 M 288 548 L 296 556 L 292 562"/>
<path class="pn" stroke-width="0.7" d="M 300 557 L 345 533 L 382 513 M 392 520 L 405 530 M 515 593 L 495.6 604 L 477.8 615 L 458.5 624.6 L 450 630"/>
<path class="pn" stroke-width="0.8" d="M 292 590 L 330 605 L 360 620 L 405 645 L 430 656 L 452 650 L 480 640 L 510 628"/>
<path class="pn" stroke-width="0.8" d="M 283 590 L 294 594 L 300 596 L 293 600"/>
<g transform="translate(314.0,583.0) rotate(28)"><rect x="-10.5" y="-9.5" width="21" height="19" rx="8" class="pn" stroke-width="1" stroke-dasharray="30 3 14 3"/></g>
<ellipse cx="321.0" cy="568.5" rx="2.6" ry="3.4" class="pn" stroke-width="1"/>
<circle cx="329.0" cy="579.0" r="1.5" class="pn" stroke-width="0.7"/>
<circle cx="332.0" cy="585.0" r="1.3" class="pn" stroke-width="0.6"/>
<path class="pn" stroke-width="0.7" d="M328.0 573.0 C332.0 574.0 333.0 577.0 336.0 577.0"/>
<g transform="translate(346.0,601.5) rotate(28)"><rect x="-10.5" y="-9.5" width="21" height="19" rx="8" class="pn" stroke-width="1" stroke-dasharray="30 3 14 3"/></g>
<ellipse cx="353.0" cy="587.0" rx="2.6" ry="3.4" class="pn" stroke-width="1"/>
<circle cx="361.0" cy="597.5" r="1.5" class="pn" stroke-width="0.7"/>
<circle cx="364.0" cy="603.5" r="1.3" class="pn" stroke-width="0.6"/>
<path class="pn" stroke-width="0.7" d="M360.0 591.5 C364.0 592.5 365.0 595.5 368.0 595.5"/>
<g transform="translate(378.0,620.0) rotate(28)"><rect x="-10.5" y="-9.5" width="21" height="19" rx="8" class="pn" stroke-width="1" stroke-dasharray="30 3 14 3"/></g>
<ellipse cx="385.0" cy="605.5" rx="2.6" ry="3.4" class="pn" stroke-width="1"/>
<circle cx="393.0" cy="616.0" r="1.5" class="pn" stroke-width="0.7"/>
<circle cx="396.0" cy="622.0" r="1.3" class="pn" stroke-width="0.6"/>
<path class="pn" stroke-width="0.7" d="M392.0 610.0 C396.0 611.0 397.0 614.0 400.0 614.0"/>
<g transform="translate(410.0,638.5) rotate(28)"><rect x="-10.5" y="-9.5" width="21" height="19" rx="8" class="pn" stroke-width="1" stroke-dasharray="30 3 14 3"/></g>
<ellipse cx="417.0" cy="624.0" rx="2.6" ry="3.4" class="pn" stroke-width="1"/>
<circle cx="425.0" cy="634.5" r="1.5" class="pn" stroke-width="0.7"/>
<circle cx="428.0" cy="640.5" r="1.3" class="pn" stroke-width="0.6"/>
<path class="pn" stroke-width="0.7" d="M424.0 628.5 C428.0 629.5 429.0 632.5 432.0 632.5"/>
<circle cx="291.5" cy="550" r="1.5" class="pn" stroke-width="0.7"/><circle cx="301.5" cy="550" r="1.2" class="pn" stroke-width="0.7"/><circle cx="283.5" cy="574" r="1.5" class="pn" stroke-width="0.7"/><circle cx="294" cy="584" r="1.5" class="pn" stroke-width="0.7"/>
<path class="pn" stroke-width="0.7" d="M371.8 526.0 L371.8 536.0 L385.8 544.0 L397.8 542.0 M384.8 534.0 L384.8 543.0"/>
<path class="p" stroke-width="1" d="M372.8 529.0 L372.8 537.0 A5.0 2.5 0 0 0 382.8 537.0 L382.8 529.0"/><ellipse cx="377.8" cy="529.0" rx="5.0" ry="2.8" class="p" stroke-width="1"/><ellipse cx="377.8" cy="529.0" rx="3.2" ry="1.5" class="pn" stroke-width="0.7"/>
<path class="p" stroke-width="1" d="M386.8 536.5 L386.8 544.5 A5.0 2.5 0 0 0 396.8 544.5 L396.8 536.5"/><ellipse cx="391.8" cy="536.5" rx="5.0" ry="2.8" class="p" stroke-width="1"/><ellipse cx="391.8" cy="536.5" rx="3.2" ry="1.5" class="pn" stroke-width="0.7"/>
<ellipse cx="361.8" cy="539.5" rx="7" ry="4.5" class="p" stroke-width="0.9"/><ellipse cx="361.8" cy="539.5" rx="4.8" ry="2.7" class="pn" stroke-width="0.7"/>
<ellipse cx="357.8" cy="550.0" rx="10" ry="6" class="p" stroke-width="0.9"/><ellipse cx="357.8" cy="550.0" rx="7.8" ry="4.2" class="pn" stroke-width="0.7"/>
<ellipse cx="376.5" cy="556.0" rx="6.5" ry="4.2" class="p" stroke-width="0.9"/><ellipse cx="376.5" cy="556.0" rx="4.3" ry="2.4000000000000004" class="pn" stroke-width="0.7"/>
<ellipse cx="342.8" cy="563.5" rx="5" ry="3.8" class="p" stroke-width="0.9"/><ellipse cx="342.8" cy="563.5" rx="2.8" ry="1.9999999999999998" class="pn" stroke-width="0.7"/>
<ellipse cx="374.8" cy="581.5" rx="5" ry="3.5" class="p" stroke-width="0.9"/><ellipse cx="374.8" cy="581.5" rx="2.8" ry="1.7" class="pn" stroke-width="0.7"/>
<path class="p" stroke-width="1" d="M360.8 557.5 L360.8 568.0 A4.0 2.5 0 0 0 368.8 568.0 L368.8 557.5"/><ellipse cx="364.8" cy="557.5" rx="4.0" ry="2.8" class="p" stroke-width="1"/><ellipse cx="364.8" cy="557.5" rx="2.2" ry="1.5" class="pn" stroke-width="0.7"/>
<path class="pn" stroke-width="0.6" d="M347.8 554.0 L350.8 560.0 M355.8 572.0 L369.8 574.0 L371.8 580.0"/>
<circle cx="365.8" cy="586.0" r="1.5" class="pn" stroke-width="0.6"/>
<circle cx="402.8" cy="525.0" r="1.4" class="pn" stroke-width="0.6"/>
<path class="pn" stroke-width="0.7" d="M406.2 544.5 L406.2 554.5 L420.2 562.5 L432.2 560.5 M419.2 552.5 L419.2 561.5"/>
<path class="p" stroke-width="1" d="M407.2 547.5 L407.2 555.5 A5.0 2.5 0 0 0 417.2 555.5 L417.2 547.5"/><ellipse cx="412.2" cy="547.5" rx="5.0" ry="2.8" class="p" stroke-width="1"/><ellipse cx="412.2" cy="547.5" rx="3.2" ry="1.5" class="pn" stroke-width="0.7"/>
<path class="p" stroke-width="1" d="M421.2 555.0 L421.2 563.0 A5.0 2.5 0 0 0 431.2 563.0 L431.2 555.0"/><ellipse cx="426.2" cy="555.0" rx="5.0" ry="2.8" class="p" stroke-width="1"/><ellipse cx="426.2" cy="555.0" rx="3.2" ry="1.5" class="pn" stroke-width="0.7"/>
<ellipse cx="396.2" cy="558.0" rx="7" ry="4.5" class="p" stroke-width="0.9"/><ellipse cx="396.2" cy="558.0" rx="4.8" ry="2.7" class="pn" stroke-width="0.7"/>
<ellipse cx="392.2" cy="568.5" rx="10" ry="6" class="p" stroke-width="0.9"/><ellipse cx="392.2" cy="568.5" rx="7.8" ry="4.2" class="pn" stroke-width="0.7"/>
<ellipse cx="411.0" cy="574.5" rx="6.5" ry="4.2" class="p" stroke-width="0.9"/><ellipse cx="411.0" cy="574.5" rx="4.3" ry="2.4000000000000004" class="pn" stroke-width="0.7"/>
<ellipse cx="377.2" cy="582.0" rx="5" ry="3.8" class="p" stroke-width="0.9"/><ellipse cx="377.2" cy="582.0" rx="2.8" ry="1.9999999999999998" class="pn" stroke-width="0.7"/>
<ellipse cx="409.2" cy="600.0" rx="5" ry="3.5" class="p" stroke-width="0.9"/><ellipse cx="409.2" cy="600.0" rx="2.8" ry="1.7" class="pn" stroke-width="0.7"/>
<path class="p" stroke-width="1" d="M395.2 576.0 L395.2 586.5 A4.0 2.5 0 0 0 403.2 586.5 L403.2 576.0"/><ellipse cx="399.2" cy="576.0" rx="4.0" ry="2.8" class="p" stroke-width="1"/><ellipse cx="399.2" cy="576.0" rx="2.2" ry="1.5" class="pn" stroke-width="0.7"/>
<path class="pn" stroke-width="0.6" d="M382.2 572.5 L385.2 578.5 M390.2 590.5 L404.2 592.5 L406.2 598.5"/>
<circle cx="400.2" cy="604.5" r="1.5" class="pn" stroke-width="0.6"/>
<circle cx="437.2" cy="543.5" r="1.4" class="pn" stroke-width="0.6"/>
<path class="pn" stroke-width="0.7" d="M440.8 563.0 L440.8 573.0 L454.8 581.0 L466.8 579.0 M453.8 571.0 L453.8 580.0"/>
<path class="p" stroke-width="1" d="M441.8 566.0 L441.8 574.0 A5.0 2.5 0 0 0 451.8 574.0 L451.8 566.0"/><ellipse cx="446.8" cy="566.0" rx="5.0" ry="2.8" class="p" stroke-width="1"/><ellipse cx="446.8" cy="566.0" rx="3.2" ry="1.5" class="pn" stroke-width="0.7"/>
<path class="p" stroke-width="1" d="M455.8 573.5 L455.8 581.5 A5.0 2.5 0 0 0 465.8 581.5 L465.8 573.5"/><ellipse cx="460.8" cy="573.5" rx="5.0" ry="2.8" class="p" stroke-width="1"/><ellipse cx="460.8" cy="573.5" rx="3.2" ry="1.5" class="pn" stroke-width="0.7"/>
<ellipse cx="430.8" cy="576.5" rx="7" ry="4.5" class="p" stroke-width="0.9"/><ellipse cx="430.8" cy="576.5" rx="4.8" ry="2.7" class="pn" stroke-width="0.7"/>
<ellipse cx="426.8" cy="587.0" rx="10" ry="6" class="p" stroke-width="0.9"/><ellipse cx="426.8" cy="587.0" rx="7.8" ry="4.2" class="pn" stroke-width="0.7"/>
<ellipse cx="445.5" cy="593.0" rx="6.5" ry="4.2" class="p" stroke-width="0.9"/><ellipse cx="445.5" cy="593.0" rx="4.3" ry="2.4000000000000004" class="pn" stroke-width="0.7"/>
<ellipse cx="411.8" cy="600.5" rx="5" ry="3.8" class="p" stroke-width="0.9"/><ellipse cx="411.8" cy="600.5" rx="2.8" ry="1.9999999999999998" class="pn" stroke-width="0.7"/>
<ellipse cx="443.8" cy="618.5" rx="5" ry="3.5" class="p" stroke-width="0.9"/><ellipse cx="443.8" cy="618.5" rx="2.8" ry="1.7" class="pn" stroke-width="0.7"/>
<path class="p" stroke-width="1" d="M429.8 594.5 L429.8 605.0 A4.0 2.5 0 0 0 437.8 605.0 L437.8 594.5"/><ellipse cx="433.8" cy="594.5" rx="4.0" ry="2.8" class="p" stroke-width="1"/><ellipse cx="433.8" cy="594.5" rx="2.2" ry="1.5" class="pn" stroke-width="0.7"/>
<path class="pn" stroke-width="0.6" d="M416.8 591.0 L419.8 597.0 M424.8 609.0 L438.8 611.0 L440.8 617.0"/>
<circle cx="434.8" cy="623.0" r="1.5" class="pn" stroke-width="0.6"/>
<circle cx="471.8" cy="562.0" r="1.4" class="pn" stroke-width="0.6"/>
<path class="pn" stroke-width="0.7" d="M475.2 581.5 L475.2 591.5 L489.2 599.5 L501.2 597.5 M488.2 589.5 L488.2 598.5"/>
<path class="p" stroke-width="1" d="M476.2 584.5 L476.2 592.5 A5.0 2.5 0 0 0 486.2 592.5 L486.2 584.5"/><ellipse cx="481.2" cy="584.5" rx="5.0" ry="2.8" class="p" stroke-width="1"/><ellipse cx="481.2" cy="584.5" rx="3.2" ry="1.5" class="pn" stroke-width="0.7"/>
<path class="p" stroke-width="1" d="M490.2 592.0 L490.2 600.0 A5.0 2.5 0 0 0 500.2 600.0 L500.2 592.0"/><ellipse cx="495.2" cy="592.0" rx="5.0" ry="2.8" class="p" stroke-width="1"/><ellipse cx="495.2" cy="592.0" rx="3.2" ry="1.5" class="pn" stroke-width="0.7"/>
<ellipse cx="465.2" cy="595.0" rx="7" ry="4.5" class="p" stroke-width="0.9"/><ellipse cx="465.2" cy="595.0" rx="4.8" ry="2.7" class="pn" stroke-width="0.7"/>
<ellipse cx="461.2" cy="605.5" rx="10" ry="6" class="p" stroke-width="0.9"/><ellipse cx="461.2" cy="605.5" rx="7.8" ry="4.2" class="pn" stroke-width="0.7"/>
<ellipse cx="480.0" cy="611.5" rx="6.5" ry="4.2" class="p" stroke-width="0.9"/><ellipse cx="480.0" cy="611.5" rx="4.3" ry="2.4000000000000004" class="pn" stroke-width="0.7"/>
<ellipse cx="446.2" cy="619.0" rx="5" ry="3.8" class="p" stroke-width="0.9"/><ellipse cx="446.2" cy="619.0" rx="2.8" ry="1.9999999999999998" class="pn" stroke-width="0.7"/>
<ellipse cx="478.2" cy="637.0" rx="5" ry="3.5" class="p" stroke-width="0.9"/><ellipse cx="478.2" cy="637.0" rx="2.8" ry="1.7" class="pn" stroke-width="0.7"/>
<path class="p" stroke-width="1" d="M464.2 613.0 L464.2 623.5 A4.0 2.5 0 0 0 472.2 623.5 L472.2 613.0"/><ellipse cx="468.2" cy="613.0" rx="4.0" ry="2.8" class="p" stroke-width="1"/><ellipse cx="468.2" cy="613.0" rx="2.2" ry="1.5" class="pn" stroke-width="0.7"/>
<path class="pn" stroke-width="0.6" d="M451.2 609.5 L454.2 615.5 M459.2 627.5 L473.2 629.5 L475.2 635.5"/>
<circle cx="469.2" cy="641.5" r="1.5" class="pn" stroke-width="0.6"/>
<circle cx="506.2" cy="580.5" r="1.4" class="pn" stroke-width="0.6"/>
<circle cx="373" cy="504.5" r="1.5" class="pn" stroke-width="0.7"/><circle cx="366" cy="511.5" r="1.3" class="pn" stroke-width="0.7"/><circle cx="327.7" cy="534" r="1.3" class="pn" stroke-width="0.7"/>
<ellipse cx="484" cy="640.5" rx="5" ry="6.5" class="pn" stroke-width="0.8"/><ellipse cx="496" cy="644" rx="5" ry="6.5" class="pn" stroke-width="0.8"/><ellipse cx="519" cy="612.5" rx="2.5" ry="3.5" class="pn" stroke-width="0.8"/>
<ellipse cx="423.7" cy="660" rx="3.5" ry="3.5" class="pn" stroke-width="0.8"/><circle cx="423.7" cy="660" r="1.3" class="pn" stroke-width="0.6"/>
<path class="pn" stroke-width="0.6" d="M 455 640 L 462 650 M 470 655 L 480 652"/>
<path class="pn" stroke-width="0.8" d="M 475 627 L 477.8 637 L 473.6 650.8 M 492 626 L 505 633 L 509 624.6 L 515 624.6 M 450 630 L 438 636 L 430 640 M 444 628 L 440 622 M 476 631 L 470 633"/>
<circle cx="444.8" cy="637" r="1.6" class="pn" stroke-width="0.8"/><circle cx="460" cy="638.4" r="1.4" class="pn" stroke-width="0.8"/><circle cx="464" cy="641.5" r="1.6" class="pn" stroke-width="0.8"/><circle cx="470" cy="636" r="1.6" class="pn" stroke-width="0.8"/>
<path class="pn" stroke-width="0.8" d="M 455 655 L 468 652 M 457 659 L 466 657 M 438 648 L 450 645"/>
<ellipse cx="519" cy="612" rx="2.8" ry="3.5" class="pn" stroke-width="0.9"/>
<path class="dl" d="M 415.75 543.75 L 418.4 518.4 L 503.25 565.6 L 505 550.75"/>
<path class="dl" d="M 333 503 L 335 540 L 337 566"/>
<path class="dl" d="M 505 548 L 501 580"/>
<path class="dl" d="M 403 496 L 390 508"/>
<line class="ln" x1="297" y1="527" x2="316" y2="537" stroke-width="0.8"/>
<circle cx="289.5" cy="523" r="9" fill="#fff" stroke="#333" stroke-width="0.9"/><text x="289.5" y="528" text-anchor="middle" style="font-family:'Liberation Sans',sans-serif;font-size:14px;fill:#222">A</text>
<path stroke="#555" stroke-width="0.9" fill="none" d="M 239.5 646.2 L 326 646.2 L 336 628.5"/>
<path fill="#111" d="M 343 617.5 L 333.5 627 L 339.5 630.5 Z"/>
<g transform="translate(403,495.6) rotate(-39)"><rect x="0" y="-4" width="17" height="8" class="p"/><path class="pn" stroke-width="0.6" d="M3 -4V4M6 -4V4M9 -4V4M12 -4V4M15 -4V4"/><ellipse cx="0" cy="0" rx="1.8" ry="4" class="p"/><rect x="16" y="-5.5" width="8" height="11" class="p"/><rect x="23" y="-6.5" width="29" height="13" rx="2" class="p"/><path class="pn" stroke-width="0.7" d="M27 -6.5V6.5"/><rect x="27" y="-3" width="6" height="5" class="pn" stroke-width="0.6"/></g>
<path class="p" d="M 435 450 L 435.5 459 C 436 462 444 462 444.5 459 L 444 450 Z"/><ellipse cx="439.5" cy="450" rx="4.5" ry="2.8" class="p"/>
<line class="ln" x1="426.9" y1="447" x2="426.9" y2="467"/>
<line class="ln" x1="482.2" y1="410" x2="482.2" y2="428"/>
<path class="dl" d="M 474 441 L 446 467"/>
<g transform="translate(195.6,589.4) rotate(-13.7)"><rect x="33" y="-6" width="21" height="12" rx="3" class="p"/><path class="pn" stroke-width="0.8" d="M40 -6V6M43 -6V6M46 -6V6M49 -6V6"/><ellipse cx="53" cy="0" rx="1.8" ry="5.8" class="pn" stroke-width="0.8"/><rect x="10" y="-8" width="25" height="16" rx="2" class="p"/><path class="pn" stroke-width="0.7" d="M14 -8V8"/><rect x="17" y="6.5" width="7" height="5" rx="2" class="p"/><rect x="0" y="-5.5" width="12" height="11" rx="2" class="p"/><ellipse cx="1" cy="0" rx="2.5" ry="5.5" class="p"/></g>
<line class="ln" x1="222.25" y1="557" x2="222.25" y2="576"/>
<line class="ln" x1="149.7" y1="588" x2="149.7" y2="606"/>
<path class="dl" d="M 158 608 L 210 594 M 251 574 L 283 565"/>
<path class="p" d="M 357 650 L 355.8 652 L 363.5 693 L 366 695 L 369 693 L 361.5 650 Z"/>
<ellipse cx="367.5" cy="702.5" rx="12" ry="7.5" class="p"/><ellipse cx="367.5" cy="700.5" rx="11.5" ry="7" class="p"/><ellipse cx="367.5" cy="700" rx="6.5" ry="4" class="pn" stroke-width="0.6"/>
<path class="pn" d="M 359.5 654 C 357 653 360 650 361.5 651"/>
<line class="ln" x1="336" y1="703" x2="355.5" y2="703"/>
<path class="dl" d="M 357 630 L 358.5 649"/>
<path class="p" d="M 392.5 677 L 396.5 677.5 L 388.5 722 C 390 726 392 728 393 730 L 377 730 C 380 727 383 724 384.5 721 Z"/>
<ellipse cx="385" cy="732" rx="8.5" ry="4.8" class="p"/><ellipse cx="385" cy="730.5" rx="8" ry="4.3" class="p"/>
<line class="ln" x1="389" y1="716" x2="409.5" y2="716"/>
<path class="dl" d="M 399 648 L 394.5 677"/>
<path class="p" d="M 499.25 661.5 L 515 651 L 520.25 652 L 521 655.4 L 515.9 663.25 L 516.75 675.5 L 511.5 682.5 L 502.75 682.5 L 501 670.25 Z"/>
<path class="pn" stroke-width="1" d="M 506 664 L 512 657 L 513.5 660 L 509 676 L 505.5 678 Z M 508 666 L 511 660"/>
<line class="ln" x1="508" y1="682.5" x2="508" y2="703.5"/>
<path class="dl" d="M 502.75 644 L 509 650 M 520.25 654.5 L 555.25 674.6"/>
<path class="p" d="M 542.1 686 L 550 679 L 560.5 674.6 L 566.6 677.25 L 567.5 683.4 L 562.25 694.75 L 562.25 705.25 L 557 712.25 L 546.5 707.9 L 544.75 694.75 Z"/>
<path class="pn" stroke-width="0.6" d="M 544.75 694.75 L 548 690 L 560 686 M 548 707 L 547.5 694"/><circle cx="563.5" cy="680.5" r="1.6" class="pn" stroke-width="0.7"/><circle cx="556.5" cy="708.5" r="1.6" class="pn" stroke-width="0.7"/><circle cx="548.5" cy="689" r="1.3" class="pn" stroke-width="0.6"/>
<line class="ln" x1="555" y1="712" x2="555" y2="731.5"/>
<path class="dl" d="M 560.5 712.25 L 593.75 728.9"/>
<line class="ln" x1="605.6" y1="740.5" x2="605.6" y2="761"/>
<path stroke="#444" stroke-width="3.2" fill="none" d="M 254 720 C 250 730 245 740 232 744 C 222 746 214 748 206 755 C 198 763 188 767 182 760 C 177 752 178 735 178 718"/>
<path stroke="#fff" stroke-width="1.6" fill="none" d="M 254 720 C 250 730 245 740 232 744 C 222 746 214 748 206 755 C 198 763 188 767 182 760 C 177 752 178 735 178 718"/>
<path class="p" stroke-width="1.1" d="M 174.6 705 L 175 716.5 L 177 718.3 L 180 718.3 L 181.5 716.5 L 181.4 707 Z"/>
<path class="p" stroke-width="1.1" d="M 173.3 698 L 173.5 704.5 L 177 707.5 L 184.7 708.5 L 184.7 700.5 L 182.5 698.5 Z"/>
<path fill="#ccc" stroke="#444" stroke-width="0.8" d="M 179 700.5 L 184.7 700.5 L 184.7 708.5 L 179 707.5 Z"/>
<path class="p" stroke-width="1.2" d="M 174 693 C 175 691.5 180 692 182.8 695 L 182.8 698 L 177 697.5 L 173.5 696 Z"/><path class="pn" stroke-width="1.3" d="M 175.5 694.5 L 181 696"/>
<path class="pn" stroke-width="0.9" d="M 177 727 L 180.5 727 M 177 733 L 180.5 733"/>
<path class="p" stroke-width="1" d="M 250 711 L 254 707.5 L 258 707 L 259.5 713 L 257 716 L 253 716.5 L 250 714.5 Z"/><circle cx="254.5" cy="711.5" r="1.3" class="pn" stroke-width="0.7"/>
<path class="p" stroke-width="1" d="M 254.5 716 L 257.5 714.5 L 251 728 L 248 728 Z"/>
<g transform="rotate(18 265 708)"><path class="p" stroke-width="1" d="M 258.5 699.5 L 264.5 699.5 L 264.5 716.5 L 258.5 716.5 Z"/><ellipse cx="258.5" cy="708" rx="5.5" ry="8.5" class="p" stroke-width="1"/><rect x="258.5" y="699.5" width="6" height="17" fill="#fff"/><path class="pn" stroke-width="1" d="M 258.5 699.5 L 264.5 699.5 M 258.5 716.5 L 264.5 716.5 M 261.5 699.5 L 261.5 716.5"/><ellipse cx="266.5" cy="708" rx="6.2" ry="8.7" fill="#fff" stroke="#222" stroke-width="2"/><ellipse cx="267" cy="708" rx="2.8" ry="3.6" class="pn" stroke-width="0.9"/><ellipse cx="267" cy="708" rx="1.2" ry="1.6" class="pn" stroke-width="0.7"/></g>
<line class="ln" x1="238" y1="680" x2="238" y2="699"/>
<line class="ln" x1="233" y1="747" x2="233" y2="763"/>
<path class="dl" d="M 264 718 L 283 728"/>
<circle cx="291.5" cy="733.5" r="9" fill="#fff" stroke="#333" stroke-width="0.9"/><text x="291.5" y="738.5" text-anchor="middle" style="font-family:'Liberation Sans',sans-serif;font-size:14px;fill:#222">A</text>
<path fill="#000" d="M 147.5 767 L 147.5 778.5 L 168 778.5 L 164 775.5 L 172 769.5 L 163 764 L 154 770 Z"/>
</g>
<g id="bolts">
<g transform="translate(291.50,87.50) rotate(30)"><rect x="1" y="-2.3" width="15" height="4.6" rx="1" class="p" stroke-width="0.8"/><ellipse cx="1.5" cy="0" rx="1.6" ry="5.1" class="p" stroke-width="0.8"/><path class="p" stroke-width="0.9" d="M-4.5 -3.84 L-3.5 -4.8 L0 -4.8 L0.5 4.8 L-3.5 4.8 L-4.5 3.84 Z"/><path class="pn" stroke-width="0.6" d="M-4.0 -1.2L0.2 -1.44M-4.0 1.68L0.3 1.68"/><ellipse cx="-4.5" cy="0" rx="1.2" ry="3.84" class="p" stroke-width="0.8"/></g>
<g transform="translate(379.50,91.50) rotate(25)"><rect x="1" y="-2.3" width="14" height="4.6" rx="1" class="p" stroke-width="0.8"/><ellipse cx="1.5" cy="0" rx="1.6" ry="5.1" class="p" stroke-width="0.8"/><path class="p" stroke-width="0.9" d="M-4.5 -3.84 L-3.5 -4.8 L0 -4.8 L0.5 4.8 L-3.5 4.8 L-4.5 3.84 Z"/><path class="pn" stroke-width="0.6" d="M-4.0 -1.2L0.2 -1.44M-4.0 1.68L0.3 1.68"/><ellipse cx="-4.5" cy="0" rx="1.2" ry="3.84" class="p" stroke-width="0.8"/></g>
<g transform="translate(129.00,230.50) rotate(25)"><rect x="1" y="-2.3" width="15" height="4.6" rx="1" class="p" stroke-width="0.8"/><ellipse cx="1.5" cy="0" rx="1.6" ry="5.1" class="p" stroke-width="0.8"/><path class="p" stroke-width="0.9" d="M-4.5 -3.84 L-3.5 -4.8 L0 -4.8 L0.5 4.8 L-3.5 4.8 L-4.5 3.84 Z"/><path class="pn" stroke-width="0.6" d="M-4.0 -1.2L0.2 -1.44M-4.0 1.68L0.3 1.68"/><ellipse cx="-4.5" cy="0" rx="1.2" ry="3.84" class="p" stroke-width="0.8"/></g>
<g transform="translate(211.5,274.5) rotate(35)"><rect x="2" y="-2.2" width="9" height="4.4" rx="1" class="p" stroke-width="0.8"/><rect x="-5" y="-4.3" width="8" height="8.6" rx="2" class="p" stroke-width="1"/><ellipse cx="-5" cy="0" rx="1.5" ry="4" class="p" stroke-width="0.8"/></g>
<g transform="translate(310.00,211.00) rotate(30)"><rect x="1" y="-2.8" width="22" height="5.6" rx="1" class="p" stroke-width="0.8"/><path class="pn" stroke-width="0.6" d="M20.40 -2.8V2.8M18.80 -2.8V2.8M17.20 -2.8V2.8M15.60 -2.8V2.8M14.00 -2.8V2.8M12.40 -2.8V2.8"/><ellipse cx="1.5" cy="0" rx="1.6" ry="5.8" class="p" stroke-width="0.8"/><path class="p" stroke-width="0.9" d="M-5 -4.4 L-4 -5.5 L0 -5.5 L0.5 5.5 L-4 5.5 L-5 4.4 Z"/><path class="pn" stroke-width="0.6" d="M-4.5 -1.375L0.2 -1.65M-4.5 1.9249999999999998L0.3 1.9249999999999998"/><ellipse cx="-5" cy="0" rx="1.2" ry="4.4" class="p" stroke-width="0.8"/></g>
<g transform="translate(483.00,433.00) rotate(139)"><rect x="1" y="-2.3" width="11" height="4.6" rx="1" class="p" stroke-width="0.8"/><ellipse cx="1.5" cy="0" rx="1.6" ry="5.1" class="p" stroke-width="0.8"/><path class="p" stroke-width="0.9" d="M-4.5 -3.84 L-3.5 -4.8 L0 -4.8 L0.5 4.8 L-3.5 4.8 L-4.5 3.84 Z"/><path class="pn" stroke-width="0.6" d="M-4.0 -1.2L0.2 -1.44M-4.0 1.68L0.3 1.68"/><ellipse cx="-4.5" cy="0" rx="1.2" ry="3.84" class="p" stroke-width="0.8"/></g>
<g transform="translate(144.50,610.50) rotate(-11)"><rect x="1" y="-2.3" width="12" height="4.6" rx="1" class="p" stroke-width="0.8"/><ellipse cx="1.5" cy="0" rx="1.6" ry="5.1" class="p" stroke-width="0.8"/><path class="p" stroke-width="0.9" d="M-4.5 -3.84 L-3.5 -4.8 L0 -4.8 L0.5 4.8 L-3.5 4.8 L-4.5 3.84 Z"/><path class="pn" stroke-width="0.6" d="M-4.0 -1.2L0.2 -1.44M-4.0 1.68L0.3 1.68"/><ellipse cx="-4.5" cy="0" rx="1.2" ry="3.84" class="p" stroke-width="0.8"/></g>
<g transform="translate(606.00,736.00) rotate(208)"><rect x="1" y="-2.3" width="12" height="4.6" rx="1" class="p" stroke-width="0.8"/><ellipse cx="1.5" cy="0" rx="1.6" ry="5.1" class="p" stroke-width="0.8"/><path class="p" stroke-width="0.9" d="M-4.5 -3.84 L-3.5 -4.8 L0 -4.8 L0.5 4.8 L-3.5 4.8 L-4.5 3.84 Z"/><path class="pn" stroke-width="0.6" d="M-4.0 -1.2L0.2 -1.44M-4.0 1.68L0.3 1.68"/><ellipse cx="-4.5" cy="0" rx="1.2" ry="3.84" class="p" stroke-width="0.8"/></g>
<g transform="translate(237.00,702.50) rotate(22)"><rect x="1" y="-2.3" width="11" height="4.6" rx="1" class="p" stroke-width="0.8"/><ellipse cx="1.5" cy="0" rx="1.6" ry="5.1" class="p" stroke-width="0.8"/><path class="p" stroke-width="0.9" d="M-4.5 -3.84 L-3.5 -4.8 L0 -4.8 L0.5 4.8 L-3.5 4.8 L-4.5 3.84 Z"/><path class="pn" stroke-width="0.6" d="M-4.0 -1.2L0.2 -1.44M-4.0 1.68L0.3 1.68"/><ellipse cx="-4.5" cy="0" rx="1.2" ry="3.84" class="p" stroke-width="0.8"/></g>
</g>
<g id="labels">
<text class="ttl" x="220" y="27.5">KIA KKMAPTH23 - 24375B</text>
<text class="t" x="196.7" y="43">24321</text>
<text class="t" x="275.7" y="66.3">1140ER</text>
<text class="t" x="360.7" y="63.6">24361A</text>
<text class="t" x="414.2" y="76.5">24370B</text>
<text class="t" x="581.7" y="144.5">24200A</text>
<text class="t" x="279.2" y="200.7">24410B</text>
<text class="t" x="351.5" y="196">24350E</text>
<text class="t" x="619.2" y="217">1573GG</text>
<text class="t" x="291.0" y="253.8">24361B</text>
<text class="t" x="112.7" y="271.2">1140FE</text>
<text class="t" x="236.7" y="267.5">24420</text>
<text class="t" x="524.7" y="273.8">24100C</text>
<text class="t" x="149.7" y="314">24431</text>
<text class="t" x="195.2" y="314">24349</text>
<text class="t" x="565.3" y="344.7">1573GG</text>
<text class="t" x="231.7" y="355.5">24551A</text>
<text class="t" x="245.5" y="378">24610</text>
<text class="t" x="458.5" y="408.5">21516A</text>
<text class="t" x="557.2" y="399.4">24551A</text>
<text class="t" x="246.0" y="403.7">22222</text>
<text class="t" x="552.5" y="423">24610</text>
<text class="t" x="254.7" y="430.5">22223</text>
<rect x="402.3" y="430.3" width="47.2" height="16.4" fill="#f79595" stroke="#ff1010" stroke-width="1"/>
<text class="t" x="402.9" y="444.9" style="fill:#6a0aa0;stroke:#6a0aa0;stroke-width:0.2;letter-spacing:-0.15px">24375B</text>
<text class="t" x="552.5" y="449.4">22222</text>
<text class="t" x="256.7" y="463.7">22221</text>
<text class="t" x="544.4" y="476.2">22223</text>
<text class="t" x="254.0" y="505">22224B</text>
<text class="t" x="544.4" y="509.7">22221</text>
<text class="t" x="199.1" y="552.8">24355F</text>
<text class="t" x="537.5" y="550.3">22224B</text>
<text class="t" x="126.3" y="584">21516A</text>
<text class="t" x="242.3" y="643.3" style="fill:#8020e0;stroke:#8020e0">REF.20-221A</text>
<text class="t" x="219.4" y="674.7">27242</text>
<text class="t" x="294.1" y="709.4">22211</text>
<text class="t" x="489.7" y="720.2">10522</text>
<text class="t" x="412.5" y="723.0">22212</text>
<text class="t" x="530.9" y="747.0">24651C</text>
<text class="t" x="209.7" y="779">24356A</text>
<text class="t" x="580.9" y="775.0">1140EP</text>
<text x="116.5" y="793.7" style="font-family:'Liberation Sans',sans-serif;font-size:19.5px;fill:#000;stroke:#000;stroke-width:0.7">FR.</text>
</g>
</svg>
</body></html>
